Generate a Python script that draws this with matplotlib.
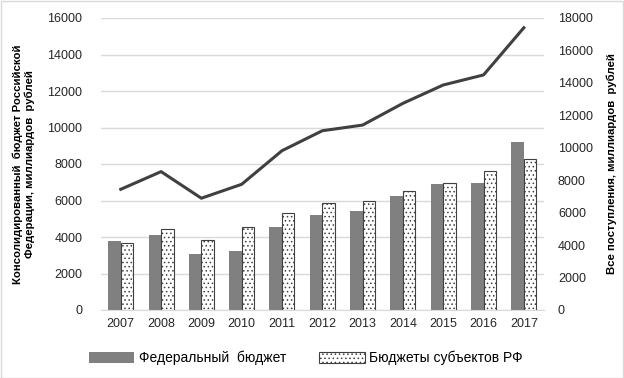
import numpy as np
import matplotlib.pyplot as plt
from matplotlib.patches import Rectangle

years = ["2007", "2008", "2009", "2010", "2011", "2012",
         "2013", "2014", "2015", "2016", "2017"]
federal = [3780, 4110, 3070, 3230, 4550, 5200, 5420, 6250, 6920, 6980, 9200]
regional = [3650, 4420, 3820, 4550, 5300, 5840, 6000, 6500, 6960, 7600, 8250]
total = [7440, 8530, 6890, 7750, 9820, 11050, 11400, 12740, 13870, 14490, 17400]

plt.rcParams['font.family'] = ['Liberation Sans', 'DejaVu Sans']
plt.rcParams['hatch.linewidth'] = 0.6
plt.rcParams['hatch.color'] = '#404040'

fig = plt.figure(figsize=(6.24, 3.78), dpi=100)
ax = fig.add_axes([100.6 / 624, 1 - 310 / 378, (544 - 100.6) / 624, (310 - 18) / 378])
ax2 = ax.twinx()

x = np.arange(len(years))
w = 0.31
ax.bar(x - w / 2, federal, w, color='#808080', label='Федеральный  бюджет', zorder=2)
ax.bar(x + w / 2, regional, w, color='white', edgecolor='#404040', linewidth=0.8,
       hatch='....', label='Бюджеты субъектов РФ', zorder=2)
ax2.plot(x, total, color='#404040', linewidth=2.2, zorder=3)

ax.set_xlim(-0.5, len(years) - 0.5)
ax.set_ylim(0, 16000)
ax.set_yticks(range(0, 16001, 2000))
ax2.set_ylim(0, 18000)
ax2.set_yticks(range(0, 18001, 2000))
ax.set_xticks(x)
ax.set_xticklabels(years)
ax.grid(axis='y', color='#d9d9d9', linewidth=1, zorder=0)
ax.set_axisbelow(True)

for a in (ax, ax2):
    for s in a.spines.values():
        s.set_visible(False)
    a.tick_params(length=0, labelsize=9, colors='#262626')
ax.spines['bottom'].set_visible(True)
ax.spines['bottom'].set_color('#d9d9d9')
ax.tick_params(axis='y', pad=13)
ax2.tick_params(axis='y', pad=10)
ax.tick_params(axis='x', pad=6)

lab_font = dict(fontweight='bold', fontsize=8.2, color='black')
ax.set_ylabel('Консолидированный  бюджет Российской\nФедерации, миллиардов  рублей',
              linespacing=1.15, **lab_font)
ax.yaxis.set_label_coords(-0.148, 0.5)
ax2.set_ylabel('Все поступления, миллиардов  рублей', **lab_font)
ax2.yaxis.set_label_coords(1.14, 0.5)

fig.legend(loc='center', bbox_to_anchor=(0.49, 1 - 358 / 378), ncol=2, frameon=False,
           fontsize=10, handlelength=3.3, handleheight=0.9, columnspacing=2.4,
           handletextpad=0.3)

fig.add_artist(Rectangle((0.001, 0.001), 0.997, 0.997, transform=fig.transFigure,
                         fill=False, edgecolor='#d9d9d9', linewidth=1))

fig.savefig('out.png', dpi=100)
